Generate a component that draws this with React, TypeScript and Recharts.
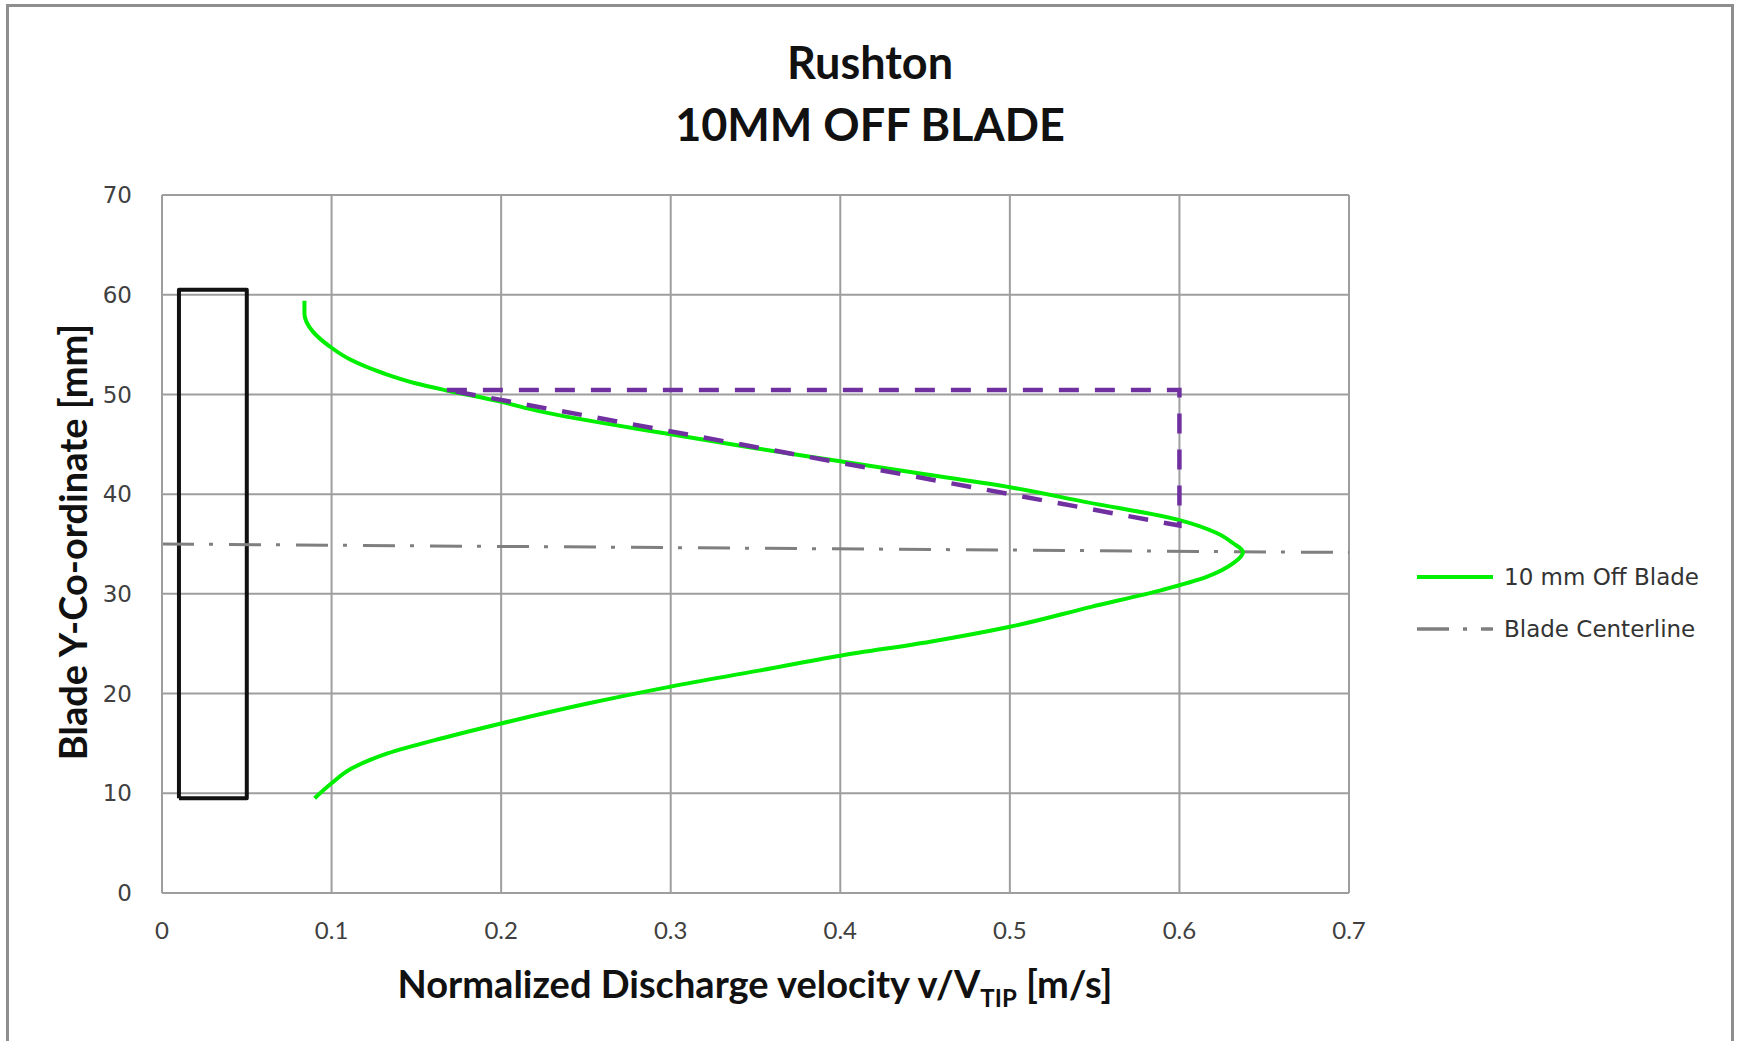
import React from 'react';
import { ComposedChart, Line, XAxis, YAxis, CartesianGrid, Legend } from 'recharts';

// ---- axis ticks ----
const xTicks = [0, 0.1, 0.2, 0.3, 0.4, 0.5, 0.6, 0.7];
const xTickLabels = ['0', '0.1', '0.2', '0.3', '0.4', '0.5', '0.6', '0.7'];
const yTicks = [0, 10, 20, 30, 40, 50, 60, 70];

// ---- "10 mm Off Blade" profile (ordered from top of blade to bottom) ----
const offBladeY = [59.4, 58.1, 56.3, 54.8, 53.5, 52.1, 51.1, 50.4, 49.3, 48.3, 46.0, 44.6, 43.3, 42.0, 40.7, 39.2, 37.4, 36.1, 35.1, 34.2, 33.1, 31.7, 30.4, 28.7, 26.7, 25.2, 23.8, 22.3, 20.7, 19.0, 17.0, 15.6, 14.0, 12.5, 11.0, 9.5];
const offBladeV = [0.084, 0.084, 0.089, 0.099, 0.111, 0.131, 0.150, 0.168, 0.199, 0.223, 0.300, 0.350, 0.400, 0.450, 0.500, 0.545, 0.600, 0.622, 0.6315, 0.6375, 0.632, 0.616, 0.590, 0.548, 0.500, 0.453, 0.400, 0.352, 0.300, 0.251, 0.200, 0.167, 0.133, 0.112, 0.100, 0.090];

// ---- blade centerline ----
const centerV = [0, 0.7];
const centerY = [35.0, 34.15];

// ---- blade outline (rectangle) ----
const bladeV = [0.01, 0.05, 0.05, 0.01, 0.01];
const bladeY = [9.5, 9.5, 60.5, 60.5, 9.5];

// ---- purple dashed triangle ----
const triV = [0.168, 0.6, 0.6, 0.168];
const triY = [50.45, 50.45, 36.85, 50.45];

const zip = (vs: number[], ys: number[]) => vs.map((v, i) => ({ v, y: ys[i] }));

const offBladeData = zip(offBladeV, offBladeY);
const centerData = zip(centerV, centerY);
const bladeData = zip(bladeV, bladeY);
const triData = zip(triV, triY);

const GREEN = '#00ee00';
const GREY_LINE = '#7f7f7f';
const PURPLE = '#7030a0';
const GRID = '#9e9e9e';

const renderLegend = () => (
  <div style={{ fontFamily: '"DejaVu Sans", sans-serif', fontSize: 23, color: '#333', textAlign: 'left' }}>
    <div style={{ display: 'flex', alignItems: 'center', height: 52 }}>
      <svg width={76} height={10} style={{ display: 'block' }}>
        <line x1={0} y1={5} x2={76} y2={5} stroke={GREEN} strokeWidth={4} />
      </svg>
      <span style={{ marginLeft: 11 }}>10 mm Off Blade</span>
    </div>
    <div style={{ display: 'flex', alignItems: 'center', height: 52 }}>
      <svg width={76} height={10} style={{ display: 'block' }}>
        <line x1={0} y1={5} x2={76} y2={5} stroke={GREY_LINE} strokeWidth={3.5} strokeDasharray="32 14 4 14 12" />
      </svg>
      <span style={{ marginLeft: 11 }}>Blade Centerline</span>
    </div>
  </div>
);

export default function App() {
  return (
    <div style={{ position: 'absolute', left: 0, top: 0, width: 1740, height: 1041, background: '#fff', overflow: 'hidden' }}>
      {/* outer frame */}
      <div style={{ position: 'absolute', left: 6, top: 4, width: 1728, height: 1060, border: '3px solid #8e8e8e', boxSizing: 'border-box' }} />
      {/* title */}
      <div style={{ position: 'absolute', left: 0, top: 31, width: 1740, textAlign: 'center', fontFamily: 'Lato, sans-serif', fontWeight: 700, fontSize: 45, lineHeight: '62px', color: '#111' }}>
        <div>Rushton</div>
        <div>10MM OFF BLADE</div>
      </div>
      {/* y axis label */}
      <div style={{ position: 'absolute', left: 72, top: 542, transform: 'translate(-50%, -50%) rotate(-90deg)', whiteSpace: 'nowrap', fontFamily: 'Lato, sans-serif', fontWeight: 700, fontSize: 38, color: '#111' }}>
        Blade Y-Co-ordinate [mm]
      </div>
      {/* x axis label */}
      <div style={{ position: 'absolute', left: 755, top: 983, transform: 'translate(-50%, -50%)', whiteSpace: 'nowrap', fontFamily: 'Lato, sans-serif', fontWeight: 700, fontSize: 38, color: '#111' }}>
        Normalized Discharge velocity v/V<span style={{ fontSize: 24, position: 'relative', top: 9 }}>TIP</span> [m/s]
      </div>
      <ComposedChart
        width={1740}
        height={1041}
        margin={{ top: 195, right: 391, bottom: 98, left: 102 }}
        style={{ position: 'absolute', left: 0, top: 0 }}
      >
        <CartesianGrid stroke={GRID} strokeWidth={2} horizontalValues={yTicks} verticalValues={xTicks} />
        <XAxis
          type="number"
          dataKey="v"
          domain={[0, 0.7]}
          ticks={xTicks}
          tickFormatter={(t: number) => xTickLabels[xTicks.indexOf(t)] ?? String(t)}
          height={50}
          tickSize={0}
          tickMargin={29}
          axisLine={{ stroke: GRID, strokeWidth: 2 }}
          tick={{ fontFamily: 'Lato, sans-serif', fontSize: 24, fill: '#404040' }}
          allowDataOverflow
        />
        <YAxis
          type="number"
          dataKey="y"
          domain={[0, 70]}
          ticks={yTicks}
          width={60}
          tickSize={0}
          tickMargin={30}
          axisLine={{ stroke: GRID, strokeWidth: 2 }}
          tick={{ fontFamily: '"DejaVu Sans", sans-serif', fontSize: 23, fill: '#404040' }}
          allowDataOverflow
        />
        <Line data={bladeData} dataKey="y" type="linear" stroke="#111" strokeWidth={4} strokeLinejoin="round" dot={false} activeDot={false} isAnimationActive={false} legendType="none" />
        <Line data={centerData} dataKey="y" type="linear" stroke={GREY_LINE} strokeWidth={3} strokeDasharray="32 15 4 16" dot={false} activeDot={false} isAnimationActive={false} name="Blade Centerline" />
        <Line data={offBladeData} dataKey="y" type="monotoneY" stroke={GREEN} strokeWidth={4} dot={false} activeDot={false} isAnimationActive={false} name="10 mm Off Blade" />
        <Line data={triData} dataKey="y" type="linear" stroke={PURPLE} strokeWidth={4.5} strokeDasharray="20 16" dot={false} activeDot={false} isAnimationActive={false} legendType="none" />
        <Legend
          layout="horizontal"
          verticalAlign="middle"
          align="center"
          content={renderLegend}
          wrapperStyle={{ position: 'absolute', left: 1417, top: 551, width: 320, height: 104 }}
        />
      </ComposedChart>
    </div>
  );
}
